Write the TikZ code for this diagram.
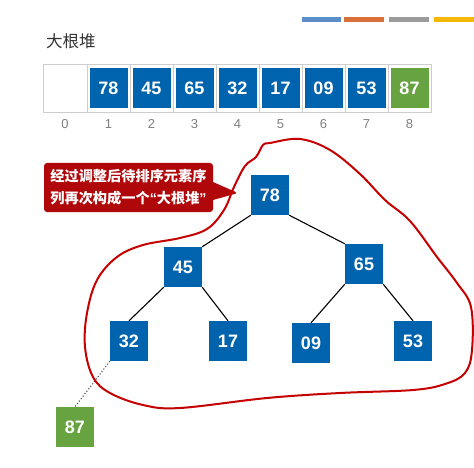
\documentclass[tikz,border=0pt]{standalone}
\usepackage{fontspec}
\setmainfont{Liberation Sans}
\newfontfamily\cjk{Noto Sans CJK SC}
\usetikzlibrary{shapes.callouts}

\definecolor{heapblue}{RGB}{0,99,174}
\definecolor{heapgreen}{RGB}{104,163,66}
\definecolor{noteRed}{RGB}{176,8,10}
\definecolor{loopRed}{RGB}{196,0,0}
\definecolor{cellgray}{RGB}{205,205,205}
\definecolor{idxgray}{RGB}{128,128,128}
\definecolor{barblue}{RGB}{91,141,201}
\definecolor{barorange}{RGB}{217,112,58}
\definecolor{bargray}{RGB}{155,155,155}
\definecolor{baryellow}{RGB}{245,184,0}

\begin{document}
\begin{tikzpicture}[x=1pt, y=-1pt,
    cell/.style={draw=cellgray, line width=0.8pt, minimum width=43pt, minimum height=48pt, inner sep=0pt},
    val/.style={fill=heapblue, text=white, minimum width=38pt, minimum height=40pt, inner sep=0pt,
                font=\fontsize{18}{20}\selectfont\bfseries},
    top/.style={val, fill=heapgreen},
    idx/.style={text=idxgray, font=\fontsize{13}{15}\selectfont},
    edge/.style={line width=1.1pt, black}]
    \useasboundingbox (0,0) rectangle (474,468);

    % bars at the top
    \fill[barblue]   (302,17) rectangle (341,22);
    \fill[barorange] (344,17) rectangle (384,22);
    \fill[bargray]   (389,17) rectangle (429,22);
    \fill[baryellow] (434,17) rectangle (474,22);

    % title
    \node[anchor=west, inner sep=0pt, text=black!80, font=\cjk\fontsize{16.5}{18}\selectfont] (title) at (46,41) {大根堆};

    % array cells
    \node[cell, minimum width=44pt] (c0) at (65,88) {};
    \node[cell] (c1) at (108.5,88) {};
    \node[cell] (c2) at (151.5,88) {};
    \node[cell] (c3) at (194.5,88) {};
    \node[cell] (c4) at (237.5,88) {};
    \node[cell] (c5) at (280.5,88) {};
    \node[cell] (c6) at (323.5,88) {};
    \node[cell] (c7) at (366.5,88) {};
    \node[cell] (c8) at (409.5,88) {};

    % array values
    \node[val] (a1) at (c1) {78};
    \node[val] (a2) at (c2) {45};
    \node[val] (a3) at (c3) {65};
    \node[val] (a4) at (c4) {32};
    \node[val] (a5) at (c5) {17};
    \node[val] (a6) at (c6) {09};
    \node[val] (a7) at (c7) {53};
    \node[top] (a8) at (c8) {87};

    % indices
    \node[idx] (i0) at (65,124) {0};
    \node[idx] (i1) at (108.5,124) {1};
    \node[idx] (i2) at (151.5,124) {2};
    \node[idx] (i3) at (194.5,124) {3};
    \node[idx] (i4) at (237.5,124) {4};
    \node[idx] (i5) at (280.5,124) {5};
    \node[idx] (i6) at (323.5,124) {6};
    \node[idx] (i7) at (366.5,124) {7};
    \node[idx] (i8) at (409.5,124) {8};

    % tree
    \node[val] (n78) at (270,195) {78};
    \node[val] (n45) at (183,267) {45};
    \node[val] (n65) at (364,264) {65};
    \node[val] (n32) at (129,341) {32};
    \node[val] (n17) at (228,341) {17};
    \node[val] (n09) at (311,343) {09};
    \node[val] (n53) at (413,341) {53};
    \node[top] (n87) at (75,427) {87};

    % edges
    \draw[edge] (n78.south west) -- (n45.north east);
    \draw[edge] (n78.south east) -- (n65.north west);
    \draw[edge] (n45.south west) -- (n32.north);
    \draw[edge] (n45.south east) -- (n17.north);
    \draw[edge] (n65.south west) -- (n09.north);
    \draw[edge] (n65.south east) -- (n53.north);
    \draw[line width=1.1pt, dotted, black!70] (n32.south west) -- (n87.north);

    % note
    \node[rectangle callout, callout absolute pointer={(238,193)}, callout pointer width=18pt,
          fill=noteRed, rounded corners=3pt, minimum width=169pt, minimum height=49pt,
          text=white, align=left, inner sep=3pt,
          font=\cjk\bfseries\fontsize{14.2}{22}\selectfont] (note) at (128.5,187.5)
          {经过调整后待排序元素序\\列再次构成一个{\rmfamily “}大根堆{\rmfamily ”}};

    % loop
    \draw[loopRed, line width=2pt, line join=round] plot[smooth cycle, tension=0.6] coordinates {
        (270,143) (300,139) (330,150) (360,174) (385,200) (410,221) (437,257) (457,283)
        (471,307) (472,350) (465,373) (445,384) (413,390) (340,393) (267,398) (180,408)
        (143,405) (110,393) (93,377) (85,347) (87,313) (97,280) (117,257) (143,245)
        (180,238) (207,229) (224,210) (234,187) (245,166) (256,157) (263,145)};
\end{tikzpicture}
\end{document}
